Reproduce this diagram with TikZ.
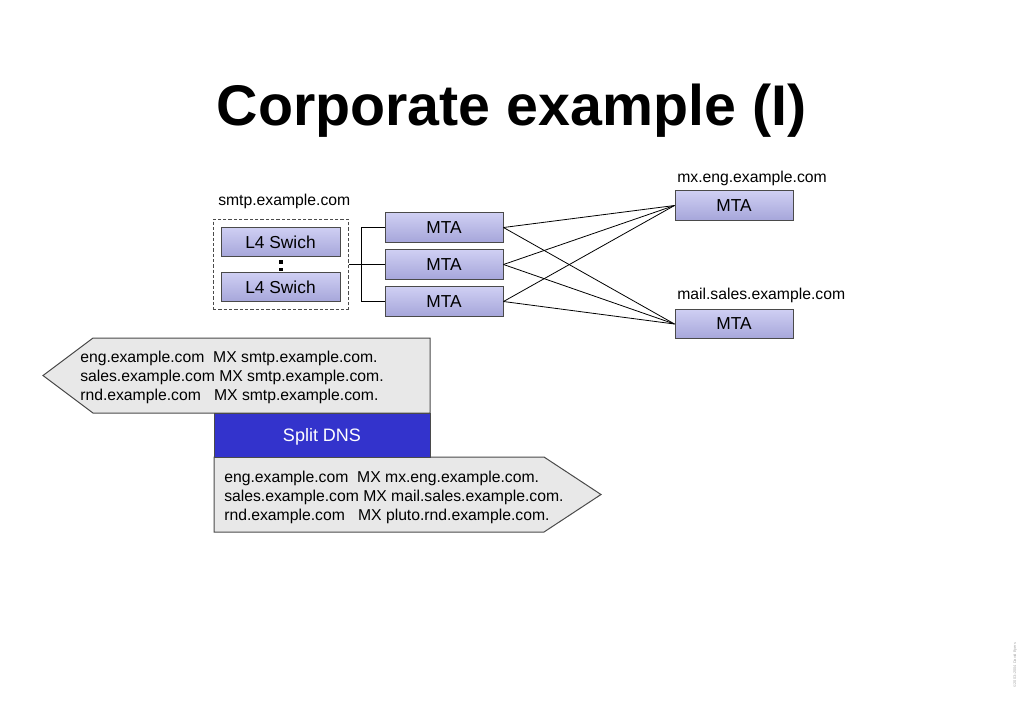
\documentclass[tikz,border=0pt]{standalone}
\usepackage{fontspec}
\setmainfont{Liberation Sans}
\definecolor{boxtop}{HTML}{CFCFF3}
\definecolor{boxbot}{HTML}{A6A6DA}
\definecolor{edgegray}{HTML}{4A4A4A}
\definecolor{dnsgray}{HTML}{E8E8E8}
\definecolor{dnsblue}{HTML}{3333CC}
\definecolor{copygray}{HTML}{A8A8A8}
\tikzset{
  mta/.style={draw=edgegray, line width=0.75pt, top color=boxtop, bottom color=boxbot,
    minimum width=88.5pt, minimum height=22pt, inner sep=0pt, font=\fontsize{13}{15}\selectfont},
  lbl/.style={anchor=base west, inner sep=0pt, font=\fontsize{11.8}{14}\selectfont},
  dnstext/.style={anchor=west, inner sep=0pt, align=left, font=\fontsize{11.8}{14.25}\selectfont},
  link/.style={draw=black, line width=0.6pt},
  dnsbox/.style={draw=edgegray, line width=0.75pt, fill=dnsgray},
}
\begin{document}
\begin{tikzpicture}[x=0.75pt,y=-0.75pt]
\useasboundingbox[fill=white] (0,0) rectangle (1023,708);

% title
\node[anchor=base, inner sep=0pt, font=\bfseries\fontsize{43}{50}\selectfont] (title) at (511.5,125) {Corporate example (I)};

% smtp cluster
\node[lbl] (smtplbl) at (218,205) {smtp.example.com};
\node[draw=edgegray, dashed, dash pattern=on 2.4pt off 1.6pt, line width=0.75pt,
      minimum width=101.25pt, minimum height=67.5pt, inner sep=0pt] (dbox) at (280.5,264) {};
\node[mta, minimum width=89.25pt] (sw1) at (280.5,242) {L4 Swich};
\node[mta, minimum width=89.25pt] (sw2) at (280.5,287) {L4 Swich};
\fill (279.2,260.2) rectangle ++(3.6,3.6);
\fill (279.2,267.6) rectangle ++(3.6,3.6);

% left MTAs
\node[mta] (m1) at (444,227.5) {MTA};
\node[mta] (m2) at (444,264.5) {MTA};
\node[mta] (m3) at (444,301.5) {MTA};

\coordinate (j) at (361,264.5);
\draw[link] (dbox.east |- j) -- (j);
\draw[link] (m1.west) -| (j);
\draw[link] (m2.west) -- (j);
\draw[link] (m3.west) -| (j);

% right MTAs
\node[lbl] (mxlbl) at (677,182) {mx.eng.example.com};
\node[mta] (mx) at (734,205.5) {MTA};
\node[lbl] (saleslbl) at (677,299) {mail.sales.example.com};
\node[mta] (ms) at (734,324) {MTA};

\foreach \s in {m1,m2,m3}{
  \draw[link] (\s.east) -- (mx.west);
  \draw[link] (\s.east) -- (ms.west);
}

% split DNS
\draw[dnsbox] (43,375.5) -- (93,338) -- (430,338) -- (430,413) -- (93,413) -- cycle;
\draw[dnsbox] (214,457) -- (544,457) -- (601,494.5) -- (544,532) -- (214,532) -- cycle;
\node[draw=edgegray, line width=0.75pt, fill=dnsblue, text=white, minimum width=162pt,
      minimum height=33pt, inner sep=0pt, text depth=0pt, font=\fontsize{13.5}{16}\selectfont] (dns) at (322,435) {Split DNS};

\node[dnstext] (outside) at (80,377.5) {eng.example.com\ \ MX smtp.example.com.\\
sales.example.com MX smtp.example.com.\\
rnd.example.com\ \ \ MX smtp.example.com.};
\node[dnstext] (inside) at (224,497) {eng.example.com\ \ MX mx.eng.example.com.\\
sales.example.com MX mail.sales.example.com.\\
rnd.example.com\ \ \ MX pluto.rnd.example.com.};

% copyright
\node[rotate=90, text=copygray, inner sep=0pt, font=\fontsize{2.9}{3.5}\selectfont] (copy) at (1015,665) {©2003–2004 David Byers};
\end{tikzpicture}
\end{document}
